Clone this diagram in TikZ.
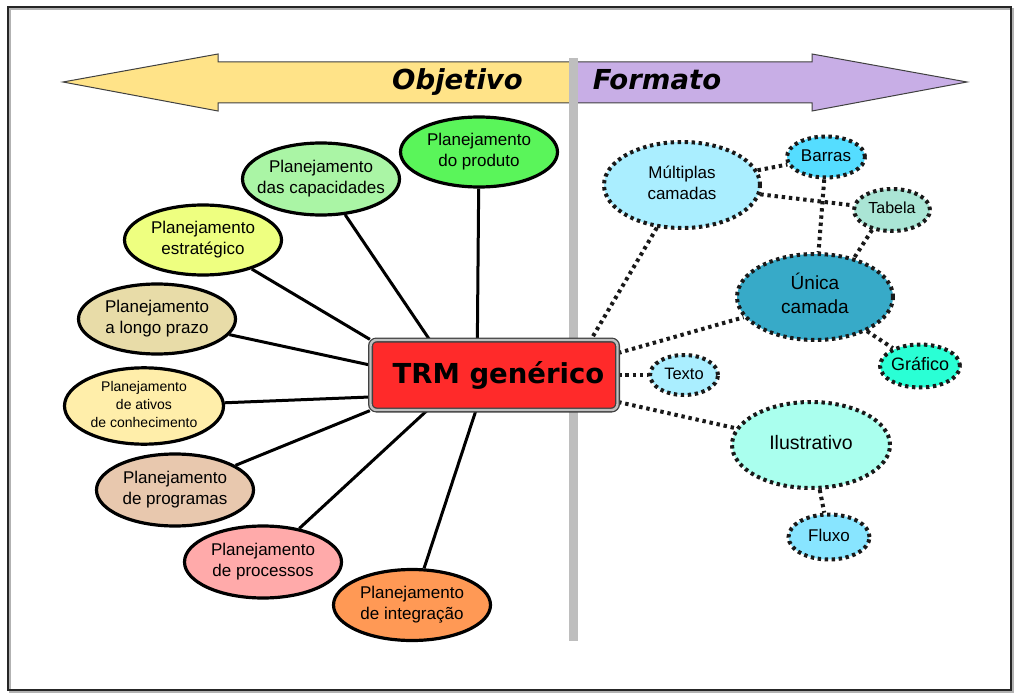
\documentclass[tikz,border=0pt]{standalone}
\usepackage{fontspec}
\setmainfont{Liberation Sans}
\newfontfamily\headfont{DejaVu Sans}
\usetikzlibrary{shapes.geometric,backgrounds,calc}

\definecolor{arrowYellow}{HTML}{FFE388}
\definecolor{arrowPurple}{HTML}{C8AEE6}
\definecolor{barGray}{HTML}{BEBEBE}
\definecolor{trmRed}{HTML}{FF2A2A}
\definecolor{cProduto}{HTML}{5AF55A}
\definecolor{cCapac}{HTML}{AAF5A5}
\definecolor{cEstrat}{HTML}{EEFF80}
\definecolor{cLongo}{HTML}{E8DCA8}
\definecolor{cAtivos}{HTML}{FFEEAA}
\definecolor{cProgr}{HTML}{E8C8AE}
\definecolor{cProces}{HTML}{FFAAAA}
\definecolor{cInteg}{HTML}{FF9955}
\definecolor{cMult}{HTML}{AAEEFF}
\definecolor{cBarras}{HTML}{55DDFF}
\definecolor{cTabela}{HTML}{AAE5D5}
\definecolor{cUnica}{HTML}{37AAC8}
\definecolor{cGrafico}{HTML}{2AFFD5}
\definecolor{cTexto}{HTML}{AAEEFF}
\definecolor{cIlustr}{HTML}{AAFFEE}
\definecolor{cFluxo}{HTML}{88E5FF}

% centred multi-line label that does not widen its node
\newcommand{\ctext}[1]{\makebox[0pt]{\begin{tabular}{@{}c@{}}#1\end{tabular}}}

\begin{document}
\begin{tikzpicture}[x=1pt,y=-1pt,
  plan/.style={ellipse, draw=black, line width=3.2pt, inner sep=0pt,
    minimum width=157pt, minimum height=70pt,
    font=\fontsize{17}{21}\selectfont},
  fmt/.style={ellipse, draw=black!90, line width=4pt,
    dash pattern=on 3.4pt off 3.6pt, inner sep=0pt},
  link/.style={line width=3pt, black},
  dlink/.style={line width=4pt, dash pattern=on 3.4pt off 3.8pt, black!90},
  headtext/.style={font=\headfont\bfseries\itshape\fontsize{27.5}{30}\selectfont, anchor=base, inner sep=0pt},
]
\useasboundingbox (0,0) rectangle (1017,695);

% outer frame
\draw[black!30, line width=1.5pt] (10,9) rectangle (1013,692);
\draw[black!85, line width=1.6pt] (8,7) rectangle (1011,690);

% axis arrows
\draw[black!75, line width=1pt, fill=arrowYellow]
  (63,82) -- (218,54) -- (218,62) -- (573,62) -- (573,103) -- (218,103) -- (218,111) -- cycle;
\draw[black!75, line width=1pt, fill=arrowPurple]
  (573,62) -- (812,62) -- (812,54) -- (967,82) -- (812,111) -- (812,103) -- (573,103) -- cycle;
\node[headtext] (objetivo) at (457.5,90) {Objetivo};
\node[headtext] (formato) at (657,90) {Formato};

% dividing bar
\fill[barGray] (569,58) rectangle (578,641);

% central node
\node[rectangle, rounded corners=6pt, fill=trmRed, draw=black!75,
  double=black!25, double distance=2.4pt, line width=1.3pt,
  minimum width=247pt, minimum height=70pt, inner sep=0pt,
  font=\headfont\bfseries\fontsize{27.5}{30}\selectfont]
  (trm) at (494,375) {\hspace*{9pt}TRM genérico};

% planning ellipses
\node[plan, fill=cProduto] (produto) at (479,152) {\ctext{Planejamento\\do produto}};
\node[plan, fill=cCapac, minimum height=72pt] (capac) at (321,179) {\ctext{Planejamento\\das capacidades}};
\node[plan, fill=cEstrat] (estrat) at (203,240) {\ctext{Planejamento\\estratégico}};
\node[plan, fill=cLongo] (longo) at (157,319) {\ctext{Planejamento\\a longo prazo}};
\node[plan, fill=cAtivos, minimum width=159pt, minimum height=73pt,
  font=\fontsize{14}{18}\selectfont] (ativos) at (144,406)
  {\ctext{Planejamento\\de ativos\\de conhecimento}};
\node[plan, fill=cProgr, minimum height=72pt] (progr) at (175,490) {\ctext{Planejamento\\de programas}};
\node[plan, fill=cProces, minimum height=72pt] (proces) at (263,562) {\ctext{Planejamento\\de processos}};
\node[plan, fill=cInteg, minimum height=71pt] (integ) at (412,605) {\ctext{Planejamento\\de integração}};

% format ellipses
\node[fmt, fill=cMult, minimum width=156pt, minimum height=86pt,
  font=\fontsize{17}{21}\selectfont] (mult) at (682,185) {\ctext{Múltiplas\\camadas}};
\node[fmt, fill=cBarras, minimum width=78pt, minimum height=41pt,
  font=\fontsize{17}{21}\selectfont] (barras) at (826,157) {\ctext{Barras}};
\node[fmt, fill=cTabela, minimum width=76pt, minimum height=42pt,
  font=\fontsize{16}{20}\selectfont] (tabela) at (892,210) {\ctext{Tabela}};
\node[fmt, fill=cUnica, minimum width=156pt, minimum height=86pt,
  font=\fontsize{19}{24}\selectfont] (unica) at (815,297) {\ctext{Única\\camada}};
\node[fmt, fill=cGrafico, minimum width=80pt, minimum height=43pt,
  font=\fontsize{18}{22}\selectfont] (grafico) at (920,366) {\ctext{Gráfico}};
\node[fmt, fill=cTexto, minimum width=68pt, minimum height=40pt,
  font=\fontsize{16.5}{20}\selectfont] (texto) at (684,375) {\ctext{Texto}};
\node[fmt, fill=cIlustr, minimum width=158pt, minimum height=86pt,
  font=\fontsize{19.5}{24}\selectfont] (ilustr) at (811,445) {\ctext{Ilustrativo}};
\node[fmt, fill=cFluxo, minimum width=81pt, minimum height=45pt,
  font=\fontsize{17}{21}\selectfont] (fluxo) at (829,537) {\ctext{Fluxo}};

% connectors
\begin{pgfonlayer}{background}
  \draw[link] (produto) -- ($(trm.north west)+(107.5,0)$);
  \draw[link] (capac) -- ($(trm.north west)+(59.5,0)$);
  \draw[link] (estrat) -- (trm.north west);
  \draw[link] (longo) -- ($(trm.west)+(0,-10)$);
  \draw[link] (ativos) -- ($(trm.west)+(0,22)$);
  \draw[link] (progr) -- (trm.south west);
  \draw[link] (proces) -- ($(trm.south west)+(57,0)$);
  \draw[link] (integ) -- ($(trm.south west)+(106,0)$);

  \draw[dlink] (mult) -- ($(trm.north east)+(-27,0)$);
  \draw[dlink] ($(trm.east)+(0,-22)$) -- (unica);
  \draw[dlink] (trm.east) -- (texto);
  \draw[dlink] ($(trm.east)+(0,27)$) -- (ilustr);
  \draw[dlink] (mult) -- (barras);
  \draw[dlink] (mult) -- (tabela);
  \draw[dlink] (barras) -- (unica);
  \draw[dlink] (tabela.225) -- (unica.45);
  \draw[dlink] (unica) -- (grafico);
  \draw[dlink] (ilustr) -- (fluxo);
\end{pgfonlayer}
\end{tikzpicture}
\end{document}
